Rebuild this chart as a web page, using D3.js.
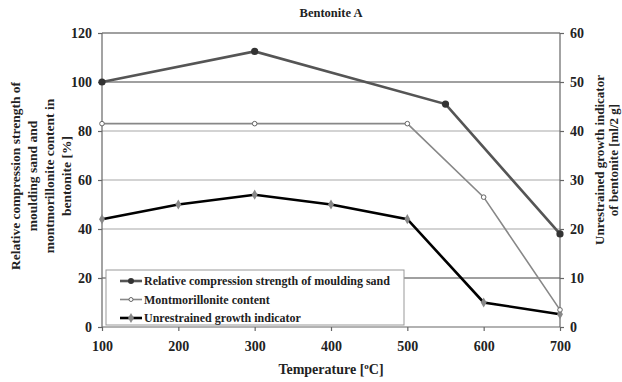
<!DOCTYPE html>
<html>
<head>
<meta charset="utf-8">
<script src="https://cdn.jsdelivr.net/npm/d3@7"></script>
<style>
  body { margin: 0; background: #fff; }
  text { font-family: "Liberation Serif", "Times New Roman", serif; font-weight: bold; fill: #222; }
</style>
</head>
<body>
<div id="chart"></div>
<script>
// data
const strengthT = [100, 300, 550, 700];
const strength = [100, 112.5, 91, 38];
const montT = [100, 300, 500, 600, 700];
const mont = [83, 83, 83, 53, 7];
const growthT = [100, 200, 300, 400, 500, 600, 700];
const growth = [22, 25, 27, 25, 22, 5, 2.6];
const xTicks = [100, 200, 300, 400, 500, 600, 700];
const leftTicks = [0, 20, 40, 60, 80, 100, 120];
const rightTicks = [0, 10, 20, 30, 40, 50, 60];
const legendNames = ["Relative compression strength of moulding sand", "Montmorillonite content", "Unrestrained growth indicator"];

const width = 622, height = 382;
const m = {left: 102, right: 62, top: 33, bottom: 55};

const svg = d3.select("#chart").append("svg")
  .attr("width", width).attr("height", height);

const x = d3.scaleLinear().domain([100, 700]).range([m.left, width - m.right]);
const yL = d3.scaleLinear().domain([0, 120]).range([height - m.bottom, m.top]);
const yR = d3.scaleLinear().domain([0, 60]).range([height - m.bottom, m.top]);

// gridlines
svg.append("g").selectAll("line")
  .data(leftTicks.slice(1))
  .enter().append("line")
  .attr("x1", m.left).attr("x2", width - m.right)
  .attr("y1", d => yL(d)).attr("y2", d => yL(d))
  .attr("stroke", d => (d == 100 || d == 20 || d == 120) ? "#808080" : "#c4c4c4")
  .attr("stroke-width", 1.3);

// axes
const axL = svg.append("g").attr("transform", "translate(" + m.left + ",0)")
  .call(d3.axisLeft(yL).tickValues(leftTicks).tickSize(4).tickPadding(6));
const axR = svg.append("g").attr("transform", "translate(" + (width - m.right) + ",0)")
  .call(d3.axisRight(yR).tickValues(rightTicks).tickSize(4).tickPadding(6));
const axX = svg.append("g").attr("transform", "translate(0," + (height - m.bottom) + ")")
  .call(d3.axisBottom(x).tickValues(xTicks).tickSize(4).tickPadding(10));
[axL, axR, axX].forEach(a => {
  a.selectAll("path, line").attr("stroke", "#666").attr("stroke-width", 1.2);
  a.select(".domain").attr("d", a === axX
    ? "M" + m.left + ",0H" + (width - m.right)
    : "M0," + yL(0) + "V" + m.top);
  a.selectAll("text").style("font-family", "Liberation Serif, serif")
    .style("font-weight", "bold").style("font-size", "14px").attr("fill", "#222");
});

// lines
function series(xs, ys, yScale) {
  return xs.map((t, i) => [x(t), yScale(ys[i])]);
}
const line = d3.line();
const sPts = series(strengthT, strength, yL);
const mPts = series(montT, mont, yL);
const gPts = series(growthT, growth, yR);

svg.append("path").attr("d", line(gPts)).attr("fill", "none")
  .attr("stroke", "#000").attr("stroke-width", 2.6);
svg.append("path").attr("d", line(mPts)).attr("fill", "none")
  .attr("stroke", "#888").attr("stroke-width", 1.6);
svg.append("path").attr("d", line(sPts)).attr("fill", "none")
  .attr("stroke", "#555").attr("stroke-width", 2.6);

const diamond = d3.symbol().type(d3.symbolDiamond).size(30);
svg.append("g").selectAll("path").data(gPts).enter().append("path")
  .attr("transform", d => "translate(" + d + ")").attr("d", diamond).attr("fill", "#888");
svg.append("g").selectAll("circle").data(mPts).enter().append("circle")
  .attr("cx", d => d[0]).attr("cy", d => d[1]).attr("r", 2.3)
  .attr("fill", "#fff").attr("stroke", "#666").attr("stroke-width", 1);
svg.append("g").selectAll("circle").data(sPts).enter().append("circle")
  .attr("cx", d => d[0]).attr("cy", d => d[1]).attr("r", 3.6).attr("fill", "#333");

// legend
const lg = svg.append("g").attr("transform", "translate(106,270)");
lg.append("rect").attr("width", 298).attr("height", 55)
  .attr("fill", "#fff").attr("stroke", "#999");
const rows = lg.selectAll("g.row").data(legendNames).enter().append("g")
  .attr("class", "row").attr("transform", (d, i) => "translate(0," + (11 + i * 18.5) + ")");
rows.append("line").attr("x1", 14).attr("x2", 36).attr("y1", 0).attr("y2", 0)
  .attr("stroke", (d, i) => ["#555", "#888", "#000"][i])
  .attr("stroke-width", (d, i) => [2.6, 1.6, 2.6][i]);
rows.each(function(d, i) {
  const g = d3.select(this);
  if (i == 0) g.append("circle").attr("cx", 25).attr("r", 3).attr("fill", "#333");
  if (i == 1) g.append("circle").attr("cx", 25).attr("r", 2).attr("fill", "#fff").attr("stroke", "#666");
  if (i == 2) g.append("path").attr("transform", "translate(25,0)").attr("d", diamond).attr("fill", "#888");
});
rows.append("text").attr("x", 38).attr("dy", "0.35em")
  .style("font-size", "12px").text(d => d);

// titles
svg.append("text").attr("x", 331).attr("y", 17).attr("text-anchor", "middle")
  .style("font-size", "12.5px").text("Bentonite A");

const xt = svg.append("text").attr("x", 331).attr("y", 374).attr("text-anchor", "middle")
  .style("font-size", "14px");
xt.append("tspan").text("Temperature [");
xt.append("tspan").attr("dy", -5).style("font-size", "9px").text("o");
xt.append("tspan").attr("dy", 5).text("C]");

const leftTitle = ["Relative compression strength of", "moulding sand and", "montmorillonite content in", "bentonite [%]"];
svg.append("text").attr("transform", "translate(20,176) rotate(-90)")
  .attr("text-anchor", "middle").style("font-size", "13.5px")
  .selectAll("tspan").data(leftTitle).enter().append("tspan")
  .attr("x", 0).attr("dy", (d, i) => i ? 17 : 0).text(d => d);

const rightTitle = ["Unrestrained growth indicator", "of bentonite [ml/2 g]"];
svg.append("text").attr("transform", "translate(604,160) rotate(-90)")
  .attr("text-anchor", "middle").style("font-size", "13px")
  .selectAll("tspan").data(rightTitle).enter().append("tspan")
  .attr("x", 0).attr("dy", (d, i) => i ? 13.5 : 0).text(d => d);
</script>
</body>
</html>
